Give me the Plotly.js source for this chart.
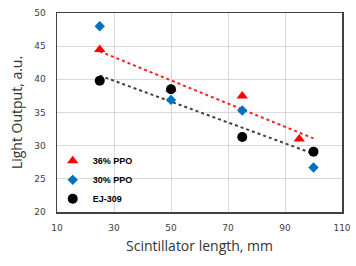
<!DOCTYPE html>
<html><head><meta charset="utf-8">
<script src="https://cdn.plot.ly/plotly-3.0.1.min.js"></script>
<style>html,body{margin:0;padding:0;background:#fff}#c{width:356px;height:266px}</style>
</head><body><div id="c"></div>
<script>
var ppo36X = [25, 50, 75, 95];
var ppo36Y = [44.5, 38.5, 37.5, 31.0];
var ppo30X = [25, 50, 75, 100];
var ppo30Y = [48.0, 36.9, 35.3, 26.7];
var ejX = [25, 50, 75, 100];
var ejY = [39.8, 38.5, 31.3, 29.1];
var names = ["36% PPO", "30% PPO", "EJ-309"];
var xTicks = [10, 30, 50, 70, 90, 110];
var yTicks = [20, 25, 30, 35, 40, 45, 50];

function fit(xs, ys) {
  var n = xs.length, mx = 0, my = 0;
  for (var i = 0; i < n; i++) { mx += xs[i]; my += ys[i]; }
  mx /= n; my /= n;
  var sxy = 0, sxx = 0;
  for (var i = 0; i < n; i++) { sxy += (xs[i]-mx)*(ys[i]-my); sxx += (xs[i]-mx)*(xs[i]-mx); }
  var b = sxy / sxx, a = my - b*mx;
  return function(x){ return a + b*x; };
}
var fRed = fit(ppo36X, ppo36Y), fBlk = fit(ejX, ejY);
var lineX = [25, 100];

var data = [
  {x: lineX, y: lineX.map(fRed), mode: 'lines', line: {color: '#ff2020', dash: 'dot', width: 2}, showlegend: false, hoverinfo: 'skip'},
  {x: lineX, y: lineX.map(fBlk), mode: 'lines', line: {color: '#404040', dash: 'dot', width: 2}, showlegend: false, hoverinfo: 'skip'},
  {x: ppo36X, y: ppo36Y, mode: 'markers', name: names[0], legendrank: 1, marker: {symbol: 'triangle-up', size: 10, color: '#ff0000'}},
  {x: ejX, y: ejY, mode: 'markers', name: names[2], legendrank: 3, marker: {symbol: 'circle', size: 10, color: '#000000'}},
  {x: ppo30X, y: ppo30Y, mode: 'markers', name: names[1], legendrank: 2, marker: {symbol: 'diamond', size: 8, color: '#0070c0'}}
];

var layout = {
  width: 356, height: 266,
  margin: {l: 57, r: 14, t: 13, b: 54},
  paper_bgcolor: '#fff', plot_bgcolor: '#fff',
  font: {family: 'DejaVu Sans, sans-serif', color: '#404040'},
  xaxis: {range: [10, 110], tickvals: xTicks, ticktext: xTicks.map(String), showgrid: true, gridcolor: '#d9d9d9', gridwidth: 1,
    showline: true, linecolor: '#404040', linewidth: 1.5, mirror: true, zeroline: false, ticks: '', ticklabelstandoff: 7,
    tickfont: {size: 9, family: 'DejaVu Sans, sans-serif', color: '#404040'},
    title: {text: 'Scintillator length, mm', font: {size: 14, family: 'Open Sans, sans-serif', color: '#333333'}, standoff: 9}},
  yaxis: {range: [20, 50], tickvals: yTicks, ticktext: yTicks.map(String), showgrid: true, gridcolor: '#d9d9d9', gridwidth: 1,
    showline: true, linecolor: '#404040', linewidth: 1.5, mirror: true, zeroline: false, ticks: '', ticklabelstandoff: 8,
    tickfont: {size: 9, family: 'DejaVu Sans, sans-serif', color: '#404040'},
    title: {text: 'Light Output, a.u.', font: {size: 14, family: 'Open Sans, sans-serif', color: '#333333'}, standoff: 8}},
  legend: {x: -0.015, y: 0.33, xanchor: 'left', yanchor: 'top', bgcolor: 'rgba(0,0,0,0)',
    font: {size: 9, family: 'Liberation Sans, sans-serif', color: '#000', weight: 'bold'},
    tracegroupgap: 0, itemwidth: 30},
  showlegend: true
};
Plotly.newPlot('c', data, layout, {displayModeBar: false, staticPlot: true});
</script>
</body></html>
